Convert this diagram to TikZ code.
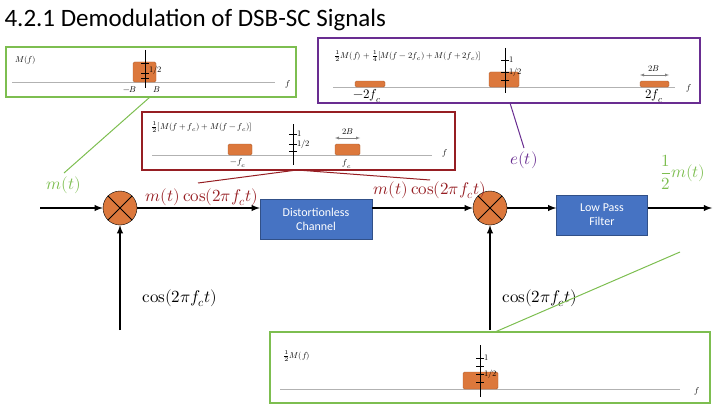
\documentclass[tikz,border=0pt]{standalone}
\usepackage{fontspec}
\setmainfont{Carlito}
\usepackage{amsmath}
\usepackage{unicode-math}
\setmathfont{Latin Modern Math}
\setoperatorfont\symup
\usetikzlibrary{positioning}
\definecolor{grn}{RGB}{125,190,80}
\definecolor{prp}{RGB}{105,45,145}
\definecolor{drd}{RGB}{150,30,35}
\definecolor{org}{RGB}{220,120,60}
\definecolor{blu}{RGB}{70,115,195}
\tikzstyle{mix}=[draw,circle,fill=org,minimum size=34pt,inner sep=0pt]
\tikzstyle{blk}=[draw=blu!70!black,fill=blu,text=white,align=center,font=\fontsize{12}{14}\selectfont]
\tikzstyle{band}=[fill=org,draw=org!80!black,rounded corners=1.5pt]
\tikzstyle{ax}=[gray!60,line width=1pt]
\tikzstyle{sig}=[line width=1.8pt,-latex]
\tikzstyle{sm}=[font=\fontsize{8.5}{10}\selectfont,inner sep=1pt]
\tikzstyle{lab}=[font=\fontsize{17}{20}\selectfont]
\def\mt{$m(t)\cos(2\pi f_c t)$}
\def\ct{$\cos(2\pi f_c t)$}

\begin{document}
\begin{tikzpicture}[x=1pt,y=-1pt]
      \useasboundingbox (0,0) rectangle (720,404);
      \node [anchor=west,font=\fontsize{25}{28}\selectfont] (title) at (1,20) {4.2.1 Demodulation of DSB-SC Signals};
      % spectrum boxes
      \draw [grn,line width=1.5pt] (6,47) rectangle (296,97);
      \node [sm,anchor=west] (Mf) at (14,60) {$M(f)$};
      \draw [ax] (12,82) -- (275,82);
      \node [sm] at (288,84) {$f$};
      \draw [band] (133,82) rectangle (156,62);
      \draw (145,50) -- (145,88) (141,63) -- (149,63) (141,73) -- (149,73) (141,78) -- (149,78);
      \node [sm,anchor=west] at (148,70) {$1/2$};
      \node [sm] at (130,90) {$-B$};
      \node [sm] at (157,90) {$B$};

      \draw [prp,line width=1.5pt] (318,38) rectangle (700,103);
      \node [sm,anchor=west] at (333,56) {$\frac12 M(f)+\frac14[M(f-2f_c)+M(f+2f_c)]$};
      \draw [ax] (333,87) -- (675,87);
      \node [sm] at (689,88) {$f$};
      \draw [band] (489,87) rectangle (519,72) (355,87) rectangle (385,81) (640,87) rectangle (669,81);
      \draw (505,48) -- (505,93) (501,60) -- (509,60) (501,72) -- (509,72) (501,80) -- (509,80);
      \node [sm,anchor=west] at (508,60) {$1$};
      \node [sm,anchor=west] at (508,72) {$1/2$};
      \draw [<->,>=latex,gray] (640,75) -- (669,75);
      \node [sm] at (654,69) {$2B$};
      \node [font=\fontsize{13}{15}\selectfont] (m2fc) at (367,96) {$-2f_c$};
      \node [font=\fontsize{13}{15}\selectfont] (p2fc) at (654,96) {$2f_c$};

      \draw [drd,line width=1.5pt] (142,112) rectangle (455,170);
      \node [sm,anchor=west] at (150,127) {$\frac12[M(f+f_c)+M(f-f_c)]$};
      \draw [ax] (152,155) -- (432,155);
      \node [sm] at (445,153) {$f$};
      \draw [band] (228,155) rectangle (252,144) (335,155) rectangle (360,144);
      \draw (293,124) -- (293,165) (289,134) -- (297,134) (289,144) -- (297,144) (289,151) -- (297,151);
      \node [sm,anchor=west] at (296,134) {$1$};
      \node [sm,anchor=west] at (296,144) {$1/2$};
      \draw [<->,>=latex,gray] (335,138) -- (360,138);
      \node [sm] at (348,132) {$2B$};
      \node [sm] at (238,163) {$-f_c$};
      \node [sm] at (347,164) {$f_c$};

      \draw [grn,line width=1.5pt] (270,332) rectangle (710,403);
      \node [sm,anchor=west] at (282,356) {$\frac12 M(f)$};
      \draw [ax] (280,389) -- (680,389);
      \node [sm] at (697,391) {$f$};
      \draw [band] (463,389) rectangle (498,372);
      \draw (480,345) -- (480,397) (476,358) -- (484,358) (476,366) -- (484,366) (476,374) -- (484,374) (476,382) -- (484,382);
      \node [sm,anchor=west] at (483,358) {$1$};
      \node [sm,anchor=west] at (483,374) {$1/2$};

      % block chain
      \coordinate (in) at (40,208);
      \node [mix] (X1) at (120,208) {};
      \node [blk,minimum width=112pt,minimum height=40pt] (ch) at (316,219) {Distortionless\\Channel};
      \node [mix] (X2) at (490,208) {};
      \node [blk,minimum width=91pt,minimum height=40pt] (lpf) at (602,215) {Low Pass\\Filter};
      \coordinate (out) at (712,208);
      \coordinate (c1) at (120,330);
      \coordinate (c2) at (490,330);
      \foreach \n in {X1,X2}
        \draw [line width=1pt] (\n.45) -- (\n.225) (\n.135) -- (\n.315);
      \draw [sig] (in) -- (X1);
      \draw [sig] (X1) -- (X1 -| ch.west);
      \draw [sig] (X2 -| ch.east) -- (X2);
      \draw [sig] (X2) -- (X2 -| lpf.west);
      \draw [sig] (X2 -| lpf.east) -- (out);
      \draw [sig] (c1) -- (X1);
      \draw [sig] (c2) -- (X2);

      \node [grn,lab] (lm) at (64,185) {$m(t)$};
      \node [drd,lab] (l1) at (202,197) {\mt};
      \node [drd,lab] (l2) at (430,190) {\mt};
      \node [prp,lab] (le) at (524,160) {$e(t)$};
      \node [grn,lab] (lo) at (683,172) {$\dfrac12 m(t)$};
      \node [lab] (lc1) at (180,298) {\ct};
      \node [lab] (lc2) at (540,298) {\ct};

      % pointers
      \draw [grn,line width=1pt] (150,97) -- (lm.north);
      \draw [prp,line width=1pt] (510,103) -- (le.north);
      \draw [drd,line width=1pt] (297,170) -- (198,183) (297,170) -- (430,180);
      \draw [grn,line width=1pt] (495,332) -- (680,252);
\end{tikzpicture}
\end{document}
